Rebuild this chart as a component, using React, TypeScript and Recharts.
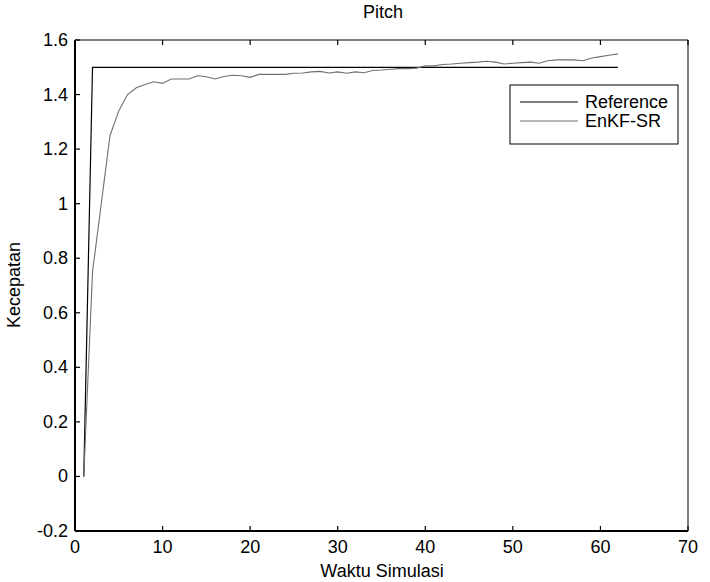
import React from 'react';
import { LineChart, Line, XAxis, YAxis } from 'recharts';

const time = [
  1, 2, 3, 4, 5, 6, 7, 8, 9, 10,
  11, 12, 13, 14, 15, 16, 17, 18, 19, 20,
  21, 22, 23, 24, 25, 26, 27, 28, 29, 30,
  31, 32, 33, 34, 35, 36, 37, 38, 39, 40,
  41, 42, 43, 44, 45, 46, 47, 48, 49, 50,
  51, 52, 53, 54, 55, 56, 57, 58, 59, 60,
  61, 62,
];

const reference = [
  0, 1.5, 1.5, 1.5, 1.5, 1.5, 1.5, 1.5, 1.5, 1.5,
  1.5, 1.5, 1.5, 1.5, 1.5, 1.5, 1.5, 1.5, 1.5, 1.5,
  1.5, 1.5, 1.5, 1.5, 1.5, 1.5, 1.5, 1.5, 1.5, 1.5,
  1.5, 1.5, 1.5, 1.5, 1.5, 1.5, 1.5, 1.5, 1.5, 1.5,
  1.5, 1.5, 1.5, 1.5, 1.5, 1.5, 1.5, 1.5, 1.5, 1.5,
  1.5, 1.5, 1.5, 1.5, 1.5, 1.5, 1.5, 1.5, 1.5, 1.5,
  1.5, 1.5,
];

const enkfSR = [
  0, 0.75, 1.0, 1.25, 1.34, 1.4, 1.425, 1.437, 1.447, 1.441,
  1.457, 1.457, 1.457, 1.469, 1.465, 1.457, 1.466, 1.471, 1.469, 1.463,
  1.474, 1.474, 1.474, 1.474, 1.478, 1.479, 1.483, 1.485, 1.479, 1.483,
  1.478, 1.483, 1.48, 1.488, 1.49, 1.493, 1.495, 1.495, 1.497, 1.505,
  1.505, 1.51, 1.512, 1.515, 1.517, 1.519, 1.522, 1.519, 1.512, 1.515,
  1.517, 1.519, 1.515, 1.524, 1.527, 1.527, 1.527, 1.524, 1.534, 1.539,
  1.544, 1.549,
];

const xTicks = [0, 10, 20, 30, 40, 50, 60, 70];
const yTicks = [-0.2, 0, 0.2, 0.4, 0.6, 0.8, 1, 1.2, 1.4, 1.6];

const seriesNames = ['Reference', 'EnKF-SR'];
const titleText = 'Pitch';
const xLabelText = 'Waktu Simulasi';
const yLabelText = 'Kecepatan';

const data = time.map((t, i) => ({ t, reference: reference[i], enkf: enkfSR[i] }));

const FONT = '"Liberation Sans", Arial, Helvetica, sans-serif';
const FS = 18;
const TL = 5;
const TW = 1.2;
const TC = '#000';

const fmt = (v: number) => String(Math.round(v * 10) / 10);

const BottomTick = (props: any) => {
  const { x, y, payload } = props;
  return (
    <g>
      <rect x={x - TW / 2} y={y - TL} width={TW} height={TL} fill={TC} />
      <text x={x} y={y + 16} textAnchor="middle" dominantBaseline="central" fontSize={FS} fontFamily={FONT} fill="#000">
        {fmt(payload.value)}
      </text>
    </g>
  );
};

const LeftTick = (props: any) => {
  const { x, y, payload } = props;
  return (
    <g>
      <rect x={x} y={y - TW / 2} width={TL} height={TW} fill={TC} />
      <text x={x - 7} y={y} textAnchor="end" dominantBaseline="central" fontSize={FS} fontFamily={FONT} fill="#000">
        {fmt(payload.value)}
      </text>
    </g>
  );
};

const TopTick = (props: any) => {
  const { x, y } = props;
  return (
    <g>
      <rect x={x - TW / 2} y={y} width={TW} height={TL} fill={TC} />
    </g>
  );
};

const RightTick = (props: any) => {
  const { x, y } = props;
  return (
    <g>
      <rect x={x - TL} y={y - TW / 2} width={TL} height={TW} fill={TC} />
    </g>
  );
};

export default function App() {
  return (
    <div style={{ position: 'absolute', left: 0, top: 0, width: 710, height: 582, background: '#fff' }}>
      <LineChart
        width={710}
        height={582}
        data={data}
        margin={{ top: 39, right: 21, bottom: 0, left: 0 }}
        style={{ fontFamily: FONT }}
      >
        <XAxis
          xAxisId="b"
          dataKey="t"
          type="number"
          domain={[0, 70]}
          ticks={xTicks}
          interval={0}
          height={51}
          tickSize={0}
          tickMargin={0}
          tickLine={false}
          axisLine={{ stroke: '#000', strokeWidth: 2 }}
          tick={BottomTick}
        />
        <XAxis
          xAxisId="top"
          orientation="top"
          dataKey="t"
          type="number"
          domain={[0, 70]}
          ticks={xTicks}
          interval={0}
          height={1}
          tickSize={0}
          tickMargin={0}
          tickLine={false}
          axisLine={{ stroke: '#000', strokeWidth: 1 }}
          tick={TopTick}
        />
        <YAxis
          yAxisId="l"
          type="number"
          domain={[-0.2, 1.6]}
          ticks={yTicks}
          interval={0}
          width={75}
          tickSize={0}
          tickMargin={0}
          tickLine={false}
          axisLine={{ stroke: '#000', strokeWidth: 2 }}
          tick={LeftTick}
        />
        <YAxis
          yAxisId="r"
          orientation="right"
          type="number"
          domain={[-0.2, 1.6]}
          ticks={yTicks}
          interval={0}
          width={1}
          tickSize={0}
          tickMargin={0}
          tickLine={false}
          axisLine={{ stroke: '#000', strokeWidth: 1 }}
          tick={RightTick}
        />
        <Line
          xAxisId="b"
          yAxisId="l"
          dataKey="reference"
          name={seriesNames[0]}
          stroke="#000"
          strokeWidth={1.2}
          dot={false}
          type="linear"
          isAnimationActive={false}
        />
        <Line
          xAxisId="b"
          yAxisId="l"
          dataKey="enkf"
          name={seriesNames[1]}
          stroke="#6f6f6f"
          strokeWidth={1.1}
          dot={false}
          type="linear"
          isAnimationActive={false}
        />
        <g>
          <text x={383} y={12} textAnchor="middle" dominantBaseline="central" fontSize={FS} fontFamily={FONT} fill="#000">
            {titleText}
          </text>
          <text x={382} y={571} textAnchor="middle" dominantBaseline="central" fontSize={FS} fontFamily={FONT} fill="#000">
            {xLabelText}
          </text>
          <text
            x={14}
            y={285}
            textAnchor="middle"
            dominantBaseline="central"
            fontSize={FS}
            fontFamily={FONT}
            fill="#000"
            transform="rotate(-90 14 285)"
          >
            {yLabelText}
          </text>
          <rect x={510} y={85} width={168} height={59} fill="#fff" stroke="#000" strokeWidth={1} />
          <line x1={520} y1={102} x2={578} y2={102} stroke="#000" strokeWidth={1.2} />
          <line x1={520} y1={121} x2={578} y2={121} stroke="#6f6f6f" strokeWidth={1.1} />
          <text x={585} y={102} dominantBaseline="central" fontSize={FS} fontFamily={FONT} fill="#000">
            {seriesNames[0]}
          </text>
          <text x={585} y={121} dominantBaseline="central" fontSize={FS} fontFamily={FONT} fill="#000">
            {seriesNames[1]}
          </text>
        </g>
      </LineChart>
    </div>
  );
}
